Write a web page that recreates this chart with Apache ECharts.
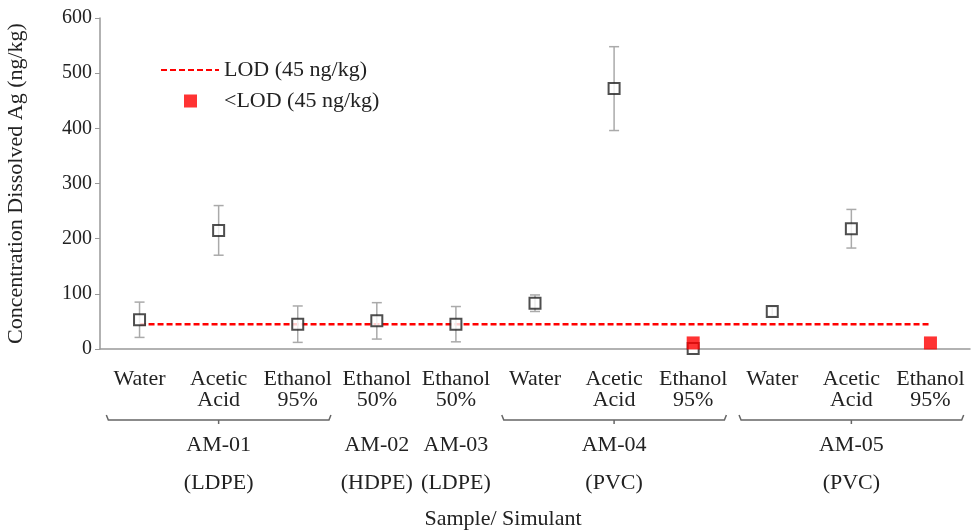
<!DOCTYPE html>
<html>
<head>
<meta charset="utf-8">
<script src="https://cdn.jsdelivr.net/npm/echarts@6/dist/echarts.min.js"></script>
<style>
  html, body { margin: 0; padding: 0; background: #fff; }
  #main { width: 973px; height: 530px; }
</style>
</head>
<body>
<div id="main"></div>
<script>
(function(){
var myChart = echarts.init(document.getElementById('main'));

// categories (simulants) and the sample groups underneath
var categories = ['Water', 'Acetic\nAcid', 'Ethanol\n95%', 'Ethanol\n50%', 'Ethanol\n50%',
                  'Water', 'Acetic\nAcid', 'Ethanol\n95%', 'Water', 'Acetic\nAcid', 'Ethanol\n95%'];
var groupLabels = ['', 'AM-01\n(LDPE)', '', 'AM-02\n(HDPE)', 'AM-03\n(LDPE)',
                   '', 'AM-04\n(PVC)', '', '', 'AM-05\n(PVC)', ''];
var groupSpans = [[0, 2], [5, 7], [8, 10]];

// mean dissolved Ag (ng/kg) and +/- error
var meanValues = [53, 215, 45, 51, 45, 83, 472, 1, 68, 218, null];
var errValues  = [32, 45, 33, 33, 32, 15, 76, null, 8, 35, null];
// results below the limit of detection
var belowLod   = [null, null, null, null, null, null, null, 11, null, null, 11];
var lodValues  = [45, 45, 45, 45, 45, 45, 45, 45, 45, 45, 45];

var font = "'Liberation Serif', 'Times New Roman', serif";
var txt = '#222';

var errData = [];
meanValues.forEach(function (v, i) {
    if (v != null && errValues[i] != null) {
        errData.push([i, v - errValues[i], v + errValues[i]]);
    }
});

option = {
    animation: false,
    backgroundColor: '#fff',
    textStyle: { fontFamily: font },
    grid: { left: 100, right: 3, top: 18, bottom: 181, outerBoundsMode: 'none', containLabel: false },
    legend: [{
        data: ['LOD (45 ng/kg)'],
        left: 160, top: 59, padding: 0,
        itemWidth: 58, itemHeight: 14,
        itemStyle: { opacity: 0 },
        textStyle: { fontFamily: font, fontSize: 22, color: txt }
    }, {
        data: ['<LOD (45 ng/kg)'],
        left: 184, top: 90, padding: 0,
        itemWidth: 13, itemHeight: 13,
        textStyle: { fontFamily: font, fontSize: 22, color: txt, padding: [0, 0, 0, 22] }
    }],
    xAxis: [{
        type: 'category',
        data: categories,
        boundaryGap: true,
        axisLine: { lineStyle: { color: '#999', width: 1.5 } },
        axisTick: { alignWithLabel: true, length: 5, lineStyle: { color: '#999' } },
        axisLabel: { interval: 0, margin: 20, fontSize: 22, lineHeight: 21, color: txt, fontFamily: font },
        name: 'Sample/ Simulant',
        nameLocation: 'middle',
        nameGap: 159,
        nameTextStyle: { fontSize: 22, color: txt, fontFamily: font, padding: [0, 64, 0, 0] }
    }, {
        type: 'category',
        data: groupLabels,
        position: 'bottom',
        axisLine: { show: false },
        axisTick: { show: false },
        axisLabel: { interval: 0, margin: 77, fontSize: 22, lineHeight: 38, color: txt, fontFamily: font }
    }],
    yAxis: {
        type: 'value',
        min: 0, max: 600, interval: 100,
        axisLine: { show: true, lineStyle: { color: '#999', width: 1.5 } },
        axisTick: { show: true, length: 5, lineStyle: { color: '#999' } },
        splitLine: { show: false },
        axisLabel: { fontSize: 20, color: txt, margin: 8, fontFamily: font },
        name: 'Concentration Dissolved Ag (ng/kg)',
        nameLocation: 'middle',
        nameGap: 73,
        nameTextStyle: { fontSize: 22, color: txt, fontFamily: font }
    },
    series: [
        {
            name: 'LOD (45 ng/kg)',
            type: 'line',
            data: lodValues,
            symbol: 'none',
            lineStyle: { color: '#ff0000', width: 2.5, type: [6, 3] },
            itemStyle: { color: '#ff0000' },
            z: 2
        },
        {
            // error bars
            type: 'custom',
            data: errData,
            encode: { x: 0, y: [1, 2] },
            renderItem: function (params, api) {
                var i = api.value(0);
                var lo = api.coord([i, api.value(1)]);
                var hi = api.coord([i, api.value(2)]);
                var hw = 5;
                var st = { stroke: '#aaa', lineWidth: 1.5 };
                return {
                    type: 'group',
                    children: [
                        { type: 'line', shape: { x1: lo[0], y1: lo[1], x2: hi[0], y2: hi[1] }, style: st },
                        { type: 'line', shape: { x1: lo[0] - hw, y1: lo[1], x2: lo[0] + hw, y2: lo[1] }, style: st },
                        { type: 'line', shape: { x1: hi[0] - hw, y1: hi[1], x2: hi[0] + hw, y2: hi[1] }, style: st }
                    ]
                };
            },
            z: 3
        },
        {
            name: 'Mean',
            type: 'scatter',
            data: meanValues,
            symbol: 'rect',
            symbolSize: 11,
            itemStyle: { color: '#fff', borderColor: '#222', borderWidth: 2 },
            z: 4
        },
        {
            name: '<LOD (45 ng/kg)',
            type: 'scatter',
            data: belowLod,
            symbol: 'rect',
            symbolSize: 13,
            itemStyle: { color: '#ff0000' },
            z: 5
        },
        {
            // brackets grouping the simulants of one sample
            type: 'custom',
            data: groupSpans,
            encode: { x: [0, 1] },
            clip: false,
            silent: true,
            renderItem: function (params, api) {
                var a = api.coord([api.value(0), 0]);
                var b = api.coord([api.value(1), 0]);
                var bw = api.size([1, 0])[0];
                var x0 = a[0] - bw * 0.42;
                var x1 = b[0] + bw * 0.42;
                var xc = (x0 + x1) / 2;
                var y = a[1] + 71;
                var st = { stroke: '#666', lineWidth: 1.5, fill: null };
                return {
                    type: 'group',
                    children: [
                        { type: 'polyline', shape: { points: [[x0, y - 5], [x0 + 2, y], [x1 - 2, y], [x1, y - 5]] }, style: st },
                        { type: 'line', shape: { x1: xc, y1: y, x2: xc, y2: y + 4 }, style: st }
                    ]
                };
            },
            z: 1
        }
    ]
};
myChart.setOption(option);
})();
</script>
</body>
</html>
